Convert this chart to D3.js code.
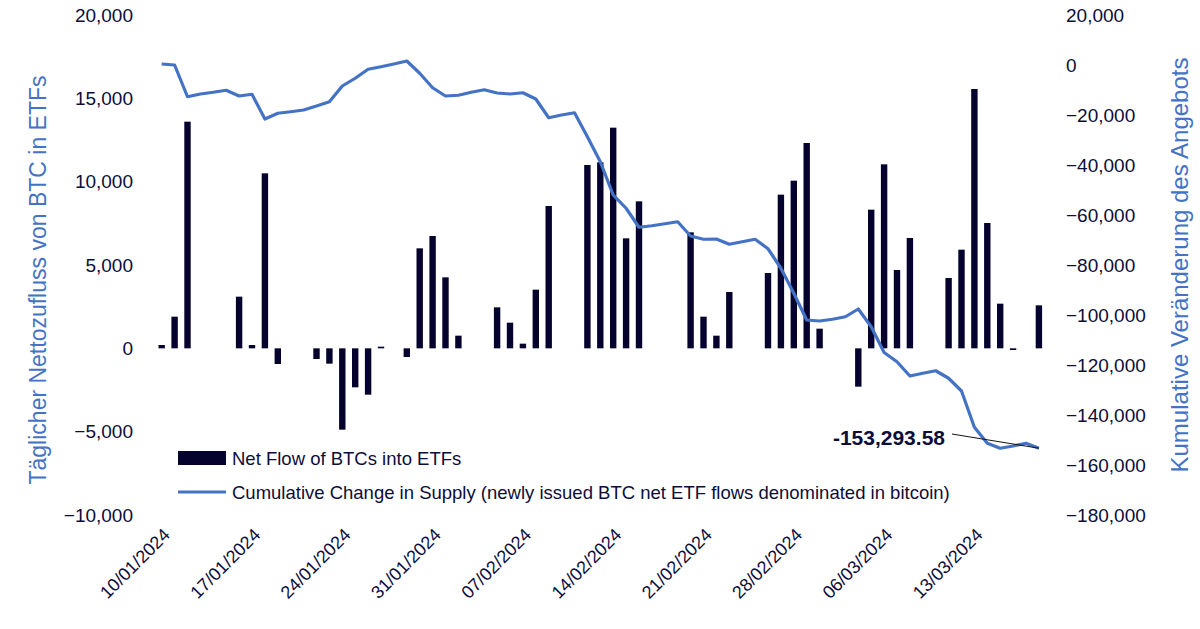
<!DOCTYPE html>
<html><head><meta charset="utf-8">
<script src="https://cdn.jsdelivr.net/npm/d3@7"></script>
<style>body{margin:0;background:#fff}svg{font-family:"Liberation Sans",Arial,sans-serif}</style>
</head><body><svg id="c" width="1200" height="629"></svg>
<script>
const barIndex=[0,1,2,6,7,8,9,12,13,14,15,16,17,19,20,21,22,23,26,27,28,29,30,33,34,35,36,37,41,42,43,44,47,48,49,50,51,54,55,56,57,58,61,62,63,64,65,66,68];
const netFlow=[200,1900,13600,3100,200,10500,-940,-640,-920,-4880,-2340,-2780,100,-520,6000,6740,4260,760,2460,1540,280,3520,8540,11000,11160,13240,6600,8820,6960,1900,760,3380,4520,9220,10060,12320,1180,-2300,8320,11040,4700,6620,4220,5920,15560,7520,2680,-100,2580];
const cumulative=[400,0,-12700,-11600,-10900,-10100,-12400,-11700,-21600,-19300,-18700,-18000,-16400,-14700,-8400,-5300,-1700,-700,400,1600,-3300,-9100,-12400,-12100,-10900,-9900,-11200,-11600,-11100,-13600,-21100,-20000,-19100,-28700,-38700,-52000,-57300,-64900,-64300,-63500,-62700,-68400,-69700,-69600,-71700,-70700,-69700,-73500,-81300,-91300,-102000,-102400,-101700,-100700,-97600,-104700,-115000,-118700,-124400,-123300,-122300,-125300,-130400,-144900,-151300,-153294,-152400,-151300,-153293.58];
const tickIndex=[0,7,14,21,28,35,42,49,56,63];
const tickLabels=["10/01/2024","17/01/2024","24/01/2024","31/01/2024","07/02/2024","14/02/2024","21/02/2024","28/02/2024","06/03/2024","13/03/2024"];
const leftTicks=[20000,15000,10000,5000,0,-5000,-10000];
const rightTicks=[20000,0,-20000,-40000,-60000,-80000,-100000,-120000,-140000,-160000,-180000];

const svg=d3.select("#c");
const navy="#05032e", blue="#4472c4", txt="#0d0d3a";
const ff="'Liberation Sans',Arial,sans-serif";
const x=d3.scaleLinear().domain([0,68]).range([161.7,1038.9]);
const yL=d3.scaleLinear().domain([-10000,20000]).range([515,15]);
const yR=d3.scaleLinear().domain([-180000,20000]).range([515,15]);
const fmt=d3.format(",");

const la=svg.append("g").attr("transform","translate(133,0)").call(d3.axisLeft(yL).tickValues(leftTicks).tickFormat(fmt).tickSize(0).tickPadding(0));
const ra=svg.append("g").attr("transform","translate(1066,0)").call(d3.axisRight(yR).tickValues(rightTicks).tickFormat(fmt).tickSize(0).tickPadding(0));
[la,ra].forEach(a=>{a.select(".domain").remove();a.selectAll("text").attr("font-size",19).attr("fill",txt).attr("font-family",ff);});

const xa=svg.append("g").attr("transform","translate(0,530)").call(d3.axisBottom(x).tickValues(tickIndex).tickFormat((d,i)=>tickLabels[i]).tickSize(0).tickPadding(0));
xa.select(".domain").remove();
xa.selectAll("text").attr("font-size",18).attr("fill",txt).attr("font-family",ff)
 .attr("text-anchor","end").attr("dy","0").attr("transform","translate(9,6) rotate(-45)");

svg.append("g").selectAll("rect").data(barIndex).join("rect")
 .attr("x",d=>x(d)-3.2).attr("width",6.4)
 .attr("y",(d,i)=>yL(Math.max(0,netFlow[i]))).attr("height",(d,i)=>Math.max(1.5,Math.abs(yL(netFlow[i])-yL(0))))
 .attr("fill",navy);

svg.append("path").datum(cumulative).attr("fill","none").attr("stroke",blue).attr("stroke-width",3.2).attr("stroke-linejoin","round")
 .attr("d",d3.line().x((d,i)=>x(i)).y(d=>yR(d)));

svg.append("line").attr("x1",952).attr("y1",434).attr("x2",x(68)).attr("y2",yR(-153293.58)).attr("stroke","#111").attr("stroke-width",1);
svg.append("text").attr("x",945).attr("y",445).attr("text-anchor","end").attr("font-size",21).attr("font-weight","bold").attr("fill",txt).text("-153,293.58");

svg.append("text").attr("transform","translate(46,280) rotate(-90)").attr("text-anchor","middle").attr("font-size",23).attr("fill",blue).text("Täglicher Nettozufluss von BTC in ETFs");
svg.append("text").attr("transform","translate(1188,265) rotate(-90)").attr("text-anchor","middle").attr("font-size",24).attr("fill",blue).text("Kumulative Veränderung des Angebots");

svg.append("rect").attr("x",178).attr("y",451).attr("width",48).attr("height",14).attr("fill",navy);
svg.append("text").attr("x",232).attr("y",465).attr("font-size",18.5).attr("fill",txt).text("Net Flow of BTCs into ETFs");
svg.append("line").attr("x1",178).attr("x2",226).attr("y1",492).attr("y2",492).attr("stroke",blue).attr("stroke-width",3.2);
svg.append("text").attr("x",232).attr("y",499).attr("font-size",18.5).attr("fill",txt).text("Cumulative Change in Supply (newly issued BTC net ETF flows denominated in bitcoin)");
</script></body></html>
